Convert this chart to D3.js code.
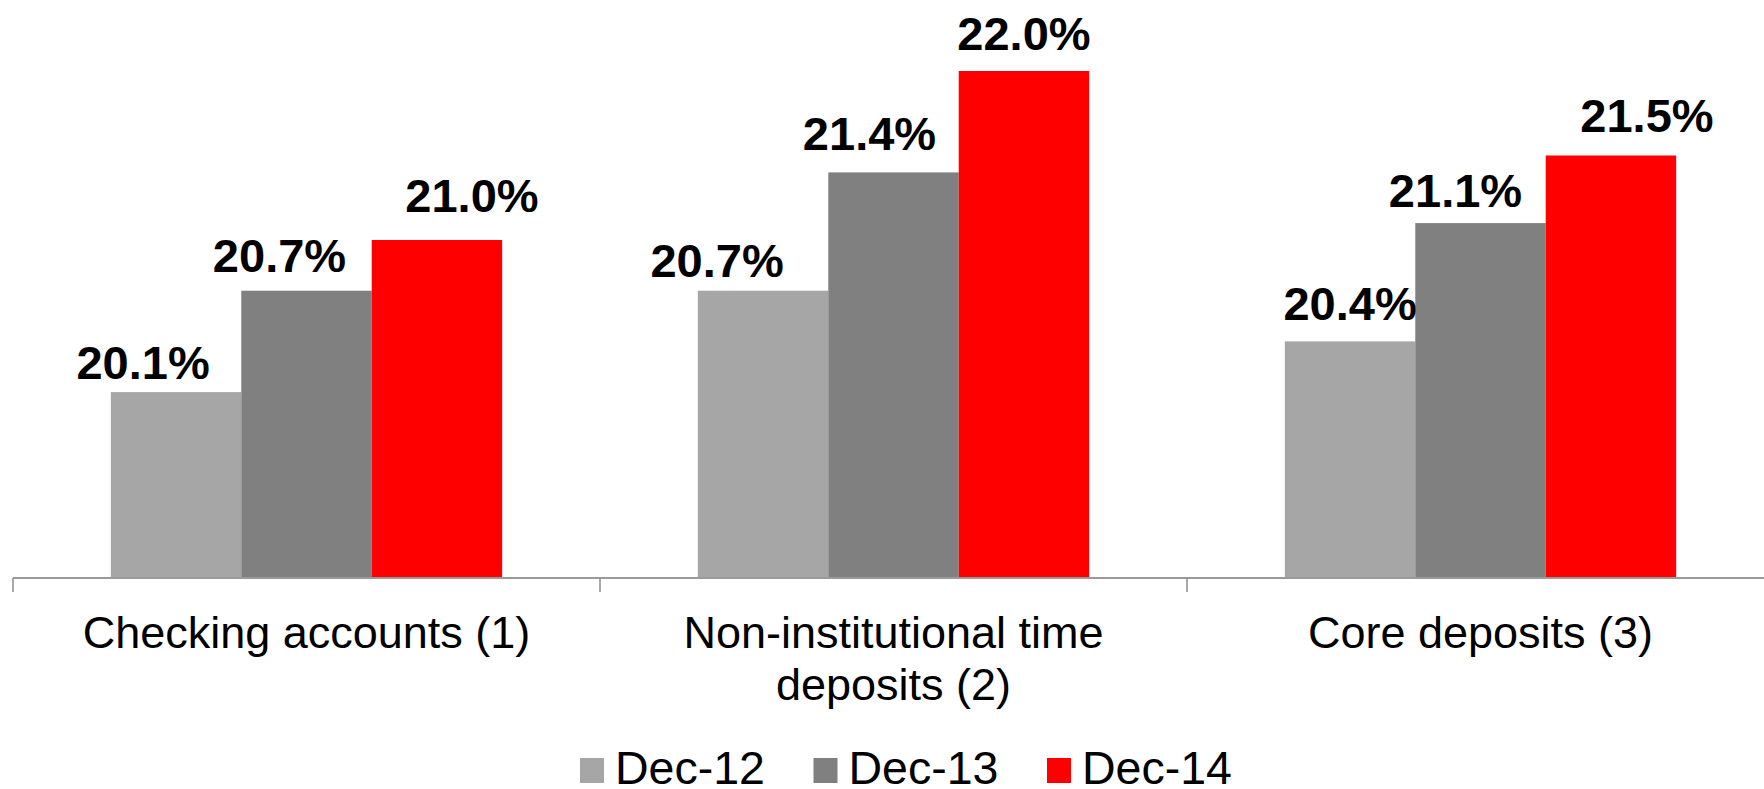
<!DOCTYPE html>
<html>
<head>
<meta charset="utf-8">
<script src="https://cdn.jsdelivr.net/npm/d3@7/dist/d3.min.js"></script>
<style>
  html, body { margin: 0; padding: 0; background: #ffffff; }
  svg { display: block; }
</style>
</head>
<body>
<svg id="chart" width="1764" height="789"></svg>
<script>
// Deposit market share by product, year-end snapshots
const categories = [
  ["Checking accounts (1)"],
  ["Non-institutional time", "deposits (2)"],
  ["Core deposits (3)"]
];
const seriesNames = ["Dec-12", "Dec-13", "Dec-14"];
const dec12 = [20.1, 20.7, 20.4];
const dec13 = [20.7, 21.4, 21.1];
const dec14 = [21.0, 22.0, 21.5];
const seriesValues = [dec12, dec13, dec14];

// Presentation settings
const colors = ["#a6a6a6", "#808080", "#ff0000"];
// Hand-placed value labels: horizontal shift and gap above each bar
const labelShift = [
  [[-33, 13], [-27, 19], [35, 28]],
  [[-46, 14], [-24, 22], [0, 21]],
  [[0, 21], [-25, 16], [36, 24]]
];

const svg = d3.select("#chart");
const baseY = 578;

const catKeys = categories.map(c => c.join(" "));
const x0 = d3.scaleBand().domain(catKeys).range([13, 1774]).paddingInner(0).paddingOuter(0);
const x1 = d3.scaleBand().domain(seriesNames).range([0, x0.bandwidth()]).paddingInner(0).paddingOuter(0.75);
const y = d3.scaleLinear().domain([19, 22]).range([baseY, 71]);

// Bars
const groups = svg.selectAll("g.cat")
  .data(catKeys)
  .join("g")
  .attr("class", "cat")
  .attr("transform", d => `translate(${x0(d)},0)`);

groups.each(function(cat, ci) {
  const g = d3.select(this);
  const rows = seriesNames.map((s, si) => ({ s, si, v: seriesValues[si][ci] }));
  g.selectAll("rect")
    .data(rows)
    .join("rect")
    .attr("x", d => x1(d.s))
    .attr("y", d => y(d.v))
    .attr("width", x1.bandwidth())
    .attr("height", d => baseY - y(d.v))
    .attr("fill", d => colors[d.si]);

  g.selectAll("text.val")
    .data(rows)
    .join("text")
    .attr("class", "val")
    .attr("x", d => x1(d.s) + x1.bandwidth() / 2 + labelShift[ci][d.si][0])
    .attr("y", d => y(d.v) - labelShift[ci][d.si][1])
    .attr("text-anchor", "middle")
    .attr("font-family", "'Liberation Sans', Arial, sans-serif")
    .attr("font-weight", "bold")
    .attr("font-size", 47)
    .attr("fill", "#000")
    .text(d => d.v.toFixed(1) + "%");
});

// Category axis: line plus ticks at category boundaries
const axis = svg.append("g");
axis.append("line")
  .attr("x1", x0.range()[0]).attr("x2", x0.range()[1])
  .attr("y1", baseY).attr("y2", baseY)
  .attr("stroke", "#9a9a9a").attr("stroke-width", 2);
const bounds = catKeys.map(k => x0(k)).concat([x0.range()[1]]);
axis.selectAll("line.tick")
  .data(bounds)
  .join("line")
  .attr("class", "tick")
  .attr("x1", d => d).attr("x2", d => d)
  .attr("y1", baseY).attr("y2", baseY + 14)
  .attr("stroke", "#8c8c8c").attr("stroke-width", 1.5);

// Category labels (may span two lines)
axis.selectAll("text.cat")
  .data(categories)
  .join("text")
  .attr("class", "cat")
  .attr("text-anchor", "middle")
  .attr("font-family", "'Liberation Sans', Arial, sans-serif")
  .attr("font-size", 45)
  .attr("fill", "#000")
  .each(function(lines, i) {
    const t = d3.select(this);
    const cx = x0(catKeys[i]) + x0.bandwidth() / 2;
    lines.forEach((ln, li) => {
      t.append("tspan").attr("x", cx).attr("y", 648 + li * 52).text(ln);
    });
  });

// Legend
const legend = svg.append("g");
const legendX = 580, legendStep = 233.5;
const items = legend.selectAll("g")
  .data(seriesNames)
  .join("g")
  .attr("transform", (d, i) => `translate(${legendX + i * legendStep},0)`);
items.append("rect")
  .attr("x", 0).attr("y", 758)
  .attr("width", 24).attr("height", 25)
  .attr("fill", (d, i) => colors[i]);
items.append("text")
  .attr("x", 35).attr("y", 784)
  .attr("font-family", "'Liberation Sans', Arial, sans-serif")
  .attr("font-size", 46.5)
  .attr("fill", "#000")
  .text(d => d);
</script>
</body>
</html>
